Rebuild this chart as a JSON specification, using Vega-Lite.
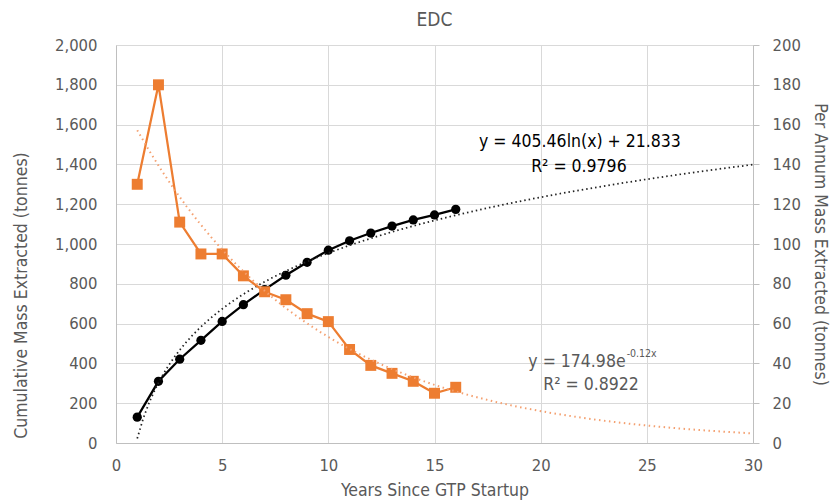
{
  "$schema": "https://vega.github.io/schema/vega-lite/v6.json",
  "width": 637,
  "height": 398,
  "autosize": {"type": "none"},
  "padding": {"left": 116, "top": 45, "right": 80, "bottom": 60},
  "background": "white",
  "config": {
    "font": "Liberation Sans Narrow, DejaVu Sans Condensed, sans-serif",
    "view": {"stroke": null},
    "axis": {
      "labelFont": "Liberation Sans Narrow, DejaVu Sans Condensed, sans-serif",
      "titleFont": "Liberation Sans Narrow, DejaVu Sans Condensed, sans-serif",
      "labelColor": "#595959",
      "titleColor": "#595959",
      "labelFontSize": 16.5,
      "titleFontSize": 17.5,
      "titleFontWeight": "normal",
      "labelFlush": false,
      "labelOverlap": false,
      "gridColor": "#d9d9d9",
      "gridWidth": 1,
      "domainColor": "#bfbfbf",
      "domainWidth": 1,
      "tickColor": "#bfbfbf"
    }
  },
  "title": {
    "text": "EDC",
    "fontSize": 19,
    "fontWeight": "normal",
    "color": "#595959",
    "font": "Liberation Sans Narrow, DejaVu Sans Condensed, sans-serif",
    "offset": 7
  },
  "datasets": {
    "main": [
      {"year": 1, "cum": 130, "annual": 130},
      {"year": 2, "cum": 310, "annual": 180},
      {"year": 3, "cum": 421, "annual": 111},
      {"year": 4, "cum": 516, "annual": 95},
      {"year": 5, "cum": 611, "annual": 95},
      {"year": 6, "cum": 695, "annual": 84},
      {"year": 7, "cum": 771, "annual": 76},
      {"year": 8, "cum": 843, "annual": 72},
      {"year": 9, "cum": 908, "annual": 65},
      {"year": 10, "cum": 969, "annual": 61},
      {"year": 11, "cum": 1016, "annual": 47},
      {"year": 12, "cum": 1055, "annual": 39},
      {"year": 13, "cum": 1090, "annual": 35},
      {"year": 14, "cum": 1121, "annual": 31},
      {"year": 15, "cum": 1146, "annual": 25},
      {"year": 16, "cum": 1174, "annual": 28}
    ],
    "labels": [
      {"year": 21.85, "cum": 1512, "t": "y = 405.46ln(x) + 21.833", "g": "black"},
      {"year": 21.8, "cum": 1387, "t": "R² = 0.9796", "g": "black"},
      {"year": 22.37, "cum": 291, "t": "R² = 0.8922", "g": "gray"}
    ]
  },
  "layer": [
    {
      "encoding": {
        "x": {
          "field": "year", "type": "quantitative",
          "scale": {"domain": [0, 30], "nice": false, "zero": false},
          "axis": {"values": [0, 5, 10, 15, 20, 25, 30], "title": "Years Since GTP Startup", "ticks": false, "labelPadding": 14, "titlePadding": 8, "grid": true}
        },
        "y": {
          "field": "cum", "type": "quantitative",
          "scale": {"domain": [0, 2000], "nice": false},
          "axis": {"orient": "left", "values": [0, 200, 400, 600, 800, 1000, 1200, 1400, 1600, 1800, 2000], "format": ",d", "title": "Cumulative Mass Extracted (tonnes)", "ticks": false, "labelPadding": 19, "titlePadding": 24, "titleY": 250, "grid": true}
        }
      },
      "layer": [
        {
          "data": {"name": "main"},
          "mark": {"type": "line", "color": "black", "strokeWidth": 2.25, "point": {"filled": true, "color": "black", "size": 85, "shape": "circle"}}
        },
        {
          "data": {"name": "main"},
          "transform": [{"regression": "cum", "on": "year", "method": "log", "extent": [1, 30]}],
          "mark": {"type": "line", "color": "#222222", "strokeWidth": 1.75, "strokeDash": [1.5, 3]}
        },
        {
          "data": {"name": "labels"},
          "transform": [{"filter": "datum.g == 'black'"}],
          "mark": {"type": "text", "fontSize": 17.5, "color": "#000000", "align": "center", "baseline": "middle"},
          "encoding": {"text": {"field": "t"}}
        },
        {
          "data": {"name": "labels"},
          "transform": [{"filter": "datum.g == 'gray'"}],
          "mark": {"type": "text", "fontSize": 17.5, "color": "#595959", "align": "center", "baseline": "middle"},
          "encoding": {"text": {"field": "t"}}
        },
        {
          "data": {"values": [{"year": 24.0, "cum": 407, "t": "y = 174.98e"}]},
          "mark": {"type": "text", "fontSize": 17.5, "color": "#595959", "align": "right", "baseline": "middle"},
          "encoding": {"text": {"field": "t"}}
        },
        {
          "data": {"values": [{"year": 24.05, "cum": 447, "t": "-0.12x"}]},
          "mark": {"type": "text", "fontSize": 10.5, "color": "#595959", "align": "left", "baseline": "middle"},
          "encoding": {"text": {"field": "t"}}
        }
      ]
    },
    {
      "data": {"name": "main"},
      "encoding": {
        "x": {"field": "year", "type": "quantitative", "scale": {"domain": [0, 30], "nice": false, "zero": false}},
        "y": {
          "field": "annual", "type": "quantitative",
          "scale": {"domain": [0, 200], "nice": false},
          "axis": {"orient": "right", "values": [0, 20, 40, 60, 80, 100, 120, 140, 160, 180, 200], "title": "Per Annum Mass Extracted (tonnes)", "ticks": true, "tickSize": 6, "labelPadding": 13, "titlePadding": 10, "grid": false}
        }
      },
      "layer": [
        {
          "mark": {"type": "line", "color": "#ED7D31", "strokeWidth": 2.25, "point": {"filled": true, "color": "#ED7D31", "size": 120, "shape": "square"}}
        },
        {
          "transform": [{"regression": "annual", "on": "year", "method": "exp", "extent": [1, 30]}],
          "mark": {"type": "line", "color": "#F4A070", "strokeWidth": 2, "strokeDash": [1.5, 3.5]}
        }
      ]
    }
  ],
  "resolve": {"scale": {"y": "independent"}}
}
